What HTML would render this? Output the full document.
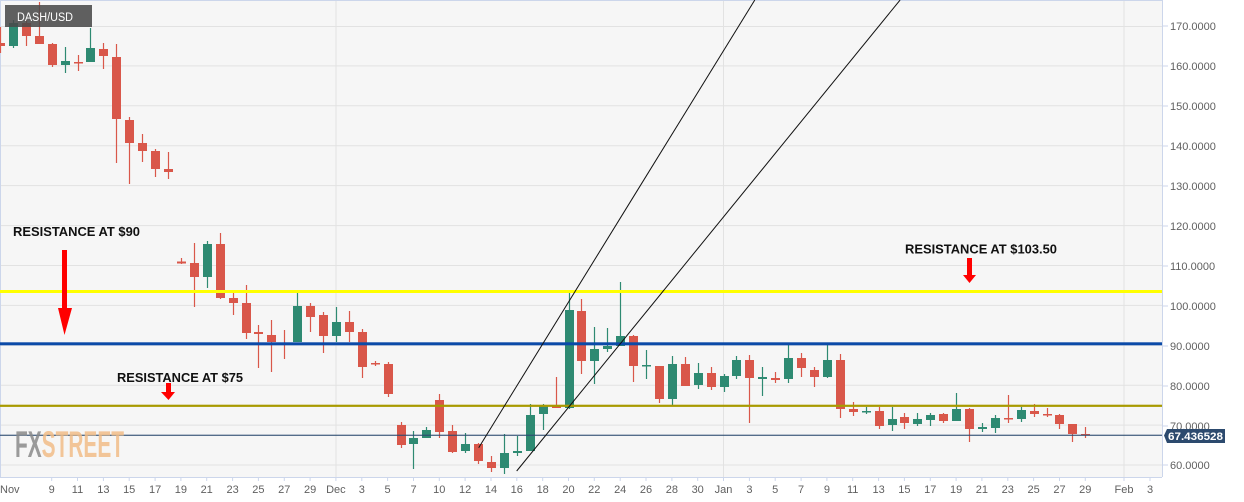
<!DOCTYPE html>
<html><head><meta charset="utf-8"><style>
html,body{margin:0;padding:0;background:#fff;}
svg{display:block;font-family:"Liberation Sans",Arial,sans-serif;}
</style></head><body>
<svg width="1244" height="502" viewBox="0 0 1244 502" xmlns="http://www.w3.org/2000/svg">
<rect x="0" y="0" width="1244" height="502" fill="#ffffff"/>
<rect x="0" y="0" width="1162" height="477" fill="#f6f6f6"/>
<!-- grid -->
<g stroke="#e2e2e2" stroke-width="1">
<path d="M0 26.5H1162M0 65.9H1162M0 105.8H1162M0 145.7H1162M0 185.6H1162M0 225.6H1162M0 265.5H1162M0 305.4H1162M0 345.3H1162M0 385.2H1162M0 425.1H1162M0 465H1162"/>
<path d="M336 0V477M723.5 0V477M1124 0V477"/>
</g>
<!-- frame -->
<g stroke="#ccd6eb" stroke-width="1" fill="none">
<path d="M0.5 0V477M0 0.5H1162M1162.5 0V477M0 477.5H1162"/>
<path d="M1162 26H1168M1162 66H1168M1162 106H1168M1162 146H1168M1162 186H1168M1162 226H1168M1162 266H1168M1162 306H1168M1162 346H1168M1162 386H1168M1162 426H1168M1162 465H1168"/>
<path d="M51.7 477V481M77.5 477V481M103.4 477V481M129.2 477V481M155.1 477V481M180.9 477V481M206.7 477V481M232.6 477V481M258.4 477V481M284.3 477V481M310.1 477V481M335.9 477V481M361.8 477V481M387.6 477V481M413.5 477V481M439.3 477V481M465.1 477V481M491 477V481M516.8 477V481M542.7 477V481M568.5 477V481M594.3 477V481M620.2 477V481M646 477V481M671.9 477V481M697.7 477V481M723.5 477V481M749.4 477V481M775.2 477V481M801.1 477V481M826.9 477V481M852.7 477V481M878.6 477V481M904.4 477V481M930.3 477V481M956.1 477V481M981.9 477V481M1007.8 477V481M1033.6 477V481M1059.5 477V481M1085.3 477V481M1124 477V481M1150 477V481"/>
</g>
<!-- red candles -->
<g fill="#d9574a" stroke="#d9574a">
<path stroke-width="1.2" fill="none" d="M0.5 27V53M26.5 20V46M39.5 2V44M52.5 43V67M78.5 55V71M103.5 43V69M116.5 44V163M129.5 117V184M142.5 134V162M155.5 149V177M168.5 152V179M181.5 258V264M194.5 243V307M220.5 233V299M233.5 293V315M246.5 285V339M258.5 325V368M271.5 320V372M284.5 330V359M310.5 303V332M323.5 312V353M349.5 311V342M362.5 329V378M375.5 361V366M388.5 362V397M401.5 422V448M439.5 394V438M452.5 425V453M478.5 443V464M491.5 456V472M556.5 377V408M581.5 299V374M633.5 335V382M659.5 366V403M685.5 357V386M711.5 367V390M749.5 355V423M775.5 372V383M801.5 353V377M814.5 367V387M840.5 354V418M853.5 402V416M879.5 407V429M904.5 413V429M943.5 413V423M969.5 408V442M1008.5 395V423M1034.5 404V417M1047.5 408V417M1059.5 414V429M1072.5 424V442M1085.5 427V438"/>
<g stroke="none">
<rect x="-4" y="43" width="9" height="3"/>
<rect x="22" y="23" width="9" height="13"/>
<rect x="35" y="36" width="9" height="8"/>
<rect x="48" y="44" width="9" height="21"/>
<rect x="74" y="62" width="9" height="1.5"/>
<rect x="99" y="49" width="9" height="7"/>
<rect x="112" y="57" width="9" height="62"/>
<rect x="125" y="120" width="9" height="23"/>
<rect x="138" y="143" width="9" height="8"/>
<rect x="151" y="151" width="9" height="18"/>
<rect x="164" y="169" width="9" height="3"/>
<rect x="177" y="261.5" width="9" height="2"/>
<rect x="190" y="263" width="9" height="14"/>
<rect x="216" y="244" width="9" height="54"/>
<rect x="229" y="298" width="9" height="5"/>
<rect x="242" y="303" width="9" height="30"/>
<rect x="254" y="332" width="9" height="2"/>
<rect x="267" y="335" width="9" height="7"/>
<rect x="280" y="343" width="9" height="2"/>
<rect x="306" y="306" width="9" height="11"/>
<rect x="319" y="315" width="9" height="21"/>
<rect x="345" y="322" width="9" height="10"/>
<rect x="358" y="332" width="9" height="35"/>
<rect x="371" y="363" width="9" height="1.5"/>
<rect x="384" y="364" width="9" height="30"/>
<rect x="397" y="425" width="9" height="20"/>
<rect x="435" y="400" width="9" height="32"/>
<rect x="448" y="431" width="9" height="21"/>
<rect x="474" y="444" width="9" height="17"/>
<rect x="487" y="462" width="9" height="6"/>
<rect x="552" y="406" width="9" height="2"/>
<rect x="577" y="311" width="9" height="50"/>
<rect x="629" y="336" width="9" height="30"/>
<rect x="655" y="366" width="9" height="33"/>
<rect x="681" y="364" width="9" height="22"/>
<rect x="707" y="373" width="9" height="14"/>
<rect x="745" y="360" width="9" height="18"/>
<rect x="771" y="378" width="9" height="2"/>
<rect x="797" y="358" width="9" height="10"/>
<rect x="810" y="370" width="9" height="7"/>
<rect x="836" y="360" width="9" height="49"/>
<rect x="849" y="409" width="9" height="3"/>
<rect x="875" y="411" width="9" height="15"/>
<rect x="900" y="417" width="9" height="6"/>
<rect x="939" y="414" width="9" height="7"/>
<rect x="965" y="409" width="9" height="20"/>
<rect x="1004" y="418" width="9" height="1.5"/>
<rect x="1030" y="411" width="9" height="3"/>
<rect x="1043" y="414" width="9" height="1.5"/>
<rect x="1055" y="415" width="9" height="9"/>
<rect x="1068" y="424" width="9" height="10"/>
<rect x="1081" y="434" width="9" height="1.5"/>
</g>
</g>
<!-- green candles -->
<g fill="#2e8a72" stroke="#2e8a72">
<path stroke-width="1.2" fill="none" d="M13.5 20V48M65.5 47V73M90.5 28V62M207.5 241V288M297.5 293V342M336.5 307V342M413.5 431V469M426.5 427V438M465.5 433V453M504.5 434V474M517.5 436V456M530.5 404V451M543.5 404V430M569.5 293V409M594.5 327V384M607.5 328V352M620.5 282V346M646.5 350V379M672.5 356V405M698.5 363V389M724.5 374V392M736.5 356V379M762.5 367V396M788.5 343V383M827.5 344V378M866.5 407V414M892.5 407V431M917.5 413V426M930.5 413V426M956.5 393V421M982.5 423V432M995.5 415V433M1021.5 407V422"/>
<g stroke="none">
<rect x="9" y="23" width="9" height="23"/>
<rect x="61" y="61" width="9" height="4"/>
<rect x="86" y="48" width="9" height="14"/>
<rect x="203" y="244" width="9" height="33"/>
<rect x="293" y="306" width="9" height="36"/>
<rect x="332" y="322" width="9" height="14"/>
<rect x="409" y="438" width="9" height="6"/>
<rect x="422" y="430" width="9" height="8"/>
<rect x="461" y="444" width="9" height="7"/>
<rect x="500" y="453" width="9" height="15"/>
<rect x="513" y="451" width="9" height="2"/>
<rect x="526" y="415" width="9" height="36"/>
<rect x="539" y="406" width="9" height="8"/>
<rect x="565" y="310" width="9" height="98"/>
<rect x="590" y="349" width="9" height="12"/>
<rect x="603" y="346" width="9" height="3"/>
<rect x="616" y="336" width="9" height="10"/>
<rect x="642" y="365" width="9" height="1.5"/>
<rect x="668" y="364" width="9" height="35"/>
<rect x="694" y="373" width="9" height="12"/>
<rect x="720" y="376" width="9" height="11"/>
<rect x="732" y="360" width="9" height="16"/>
<rect x="758" y="377" width="9" height="2"/>
<rect x="784" y="358" width="9" height="21"/>
<rect x="823" y="360" width="9" height="17"/>
<rect x="862" y="411" width="9" height="1.5"/>
<rect x="888" y="419" width="9" height="6"/>
<rect x="913" y="419" width="9" height="5"/>
<rect x="926" y="415" width="9" height="5"/>
<rect x="952" y="409" width="9" height="12"/>
<rect x="978" y="427" width="9" height="2"/>
<rect x="991" y="418" width="9" height="10"/>
<rect x="1017" y="410" width="9" height="9"/>
</g>
</g>
<!-- horizontal lines -->
<rect x="0" y="290" width="1162" height="3" fill="#ffff00"/>
<rect x="0" y="342.3" width="1162" height="3" fill="#0b4aa8"/>
<rect x="0" y="404.7" width="1162" height="2.2" fill="#a89a00"/>
<rect x="0" y="434.7" width="1162" height="1.1" fill="#2b4b70"/>
<!-- trend lines -->
<g stroke="#111" stroke-width="1" fill="none">
<path d="M478.7 447.7L754.8 0"/>
<path d="M516.7 471L900.1 0"/>
</g>
<!-- watermark -->
<text x="15" y="457" font-size="37" font-weight="bold" textLength="109" lengthAdjust="spacingAndGlyphs" opacity="0.85"><tspan fill="#8a8a8a">FX</tspan><tspan fill="#f2bd88">STREET</tspan></text>
<!-- annotations -->
<g font-weight="bold" font-size="12.5" fill="#111">
<text x="13" y="236" textLength="127" lengthAdjust="spacingAndGlyphs">RESISTANCE AT $90</text>
<text x="117" y="382" textLength="126" lengthAdjust="spacingAndGlyphs">RESISTANCE AT $75</text>
<text x="905" y="253.5" textLength="152" lengthAdjust="spacingAndGlyphs">RESISTANCE AT $103.50</text>
</g>
<g fill="#ff0000">
<polygon points="62,250 67,250 67,308 72,308 64.5,335 58,308 62,308"/>
<polygon points="166,383 171,383 171,392 175,392 168.5,400 161,392 166,392"/>
<polygon points="967,258 972,258 972,275 976,275 969.5,283 963,275 967,275"/>
</g>
<!-- header label -->
<rect x="5" y="5" width="87" height="22" fill="#4a4a4a" opacity="0.88"/>
<text x="17" y="21" font-size="11.5" fill="#ffffff" textLength="56" lengthAdjust="spacingAndGlyphs">DASH/USD</text>
<!-- y-axis labels -->
<g font-size="11" fill="#606060">
<text x="1170" y="30">170.0000</text>
<text x="1170" y="70">160.0000</text>
<text x="1170" y="110">150.0000</text>
<text x="1170" y="150">140.0000</text>
<text x="1170" y="190">130.0000</text>
<text x="1170" y="230">120.0000</text>
<text x="1170" y="270">110.0000</text>
<text x="1170" y="310">100.0000</text>
<text x="1170" y="350">90.0000</text>
<text x="1170" y="390">80.0000</text>
<text x="1170" y="430">70.0000</text>
<text x="1170" y="469">60.0000</text>
</g>
<!-- price tag -->
<polygon points="1164,435.5 1167,429 1225,429 1225,443 1167,443" fill="#2c4a6e"/>
<text x="1168" y="440" font-size="11" font-weight="bold" fill="#ffffff" textLength="55" lengthAdjust="spacingAndGlyphs">67.436528</text>
<!-- x-axis labels -->
<g font-size="11" fill="#606060" text-anchor="middle">
<text x="0" y="493" text-anchor="start">Nov</text>
<text x="51.7" y="493">9</text>
<text x="77.5" y="493">11</text>
<text x="103.4" y="493">13</text>
<text x="129.2" y="493">15</text>
<text x="155.1" y="493">17</text>
<text x="180.9" y="493">19</text>
<text x="206.7" y="493">21</text>
<text x="232.6" y="493">23</text>
<text x="258.4" y="493">25</text>
<text x="284.3" y="493">27</text>
<text x="310.1" y="493">29</text>
<text x="335.9" y="493">Dec</text>
<text x="361.8" y="493">3</text>
<text x="387.6" y="493">5</text>
<text x="413.5" y="493">7</text>
<text x="439.3" y="493">10</text>
<text x="465.1" y="493">12</text>
<text x="491" y="493">14</text>
<text x="516.8" y="493">16</text>
<text x="542.7" y="493">18</text>
<text x="568.5" y="493">20</text>
<text x="594.3" y="493">22</text>
<text x="620.2" y="493">24</text>
<text x="646" y="493">26</text>
<text x="671.9" y="493">28</text>
<text x="697.7" y="493">30</text>
<text x="723.5" y="493">Jan</text>
<text x="749.4" y="493">3</text>
<text x="775.2" y="493">5</text>
<text x="801.1" y="493">7</text>
<text x="826.9" y="493">9</text>
<text x="852.7" y="493">11</text>
<text x="878.6" y="493">13</text>
<text x="904.4" y="493">15</text>
<text x="930.3" y="493">17</text>
<text x="956.1" y="493">19</text>
<text x="981.9" y="493">21</text>
<text x="1007.8" y="493">23</text>
<text x="1033.6" y="493">25</text>
<text x="1059.5" y="493">27</text>
<text x="1085.3" y="493">29</text>
<text x="1124" y="493">Feb</text>
<text x="1150" y="493">3</text>
</g>
</svg>
</body></html>
